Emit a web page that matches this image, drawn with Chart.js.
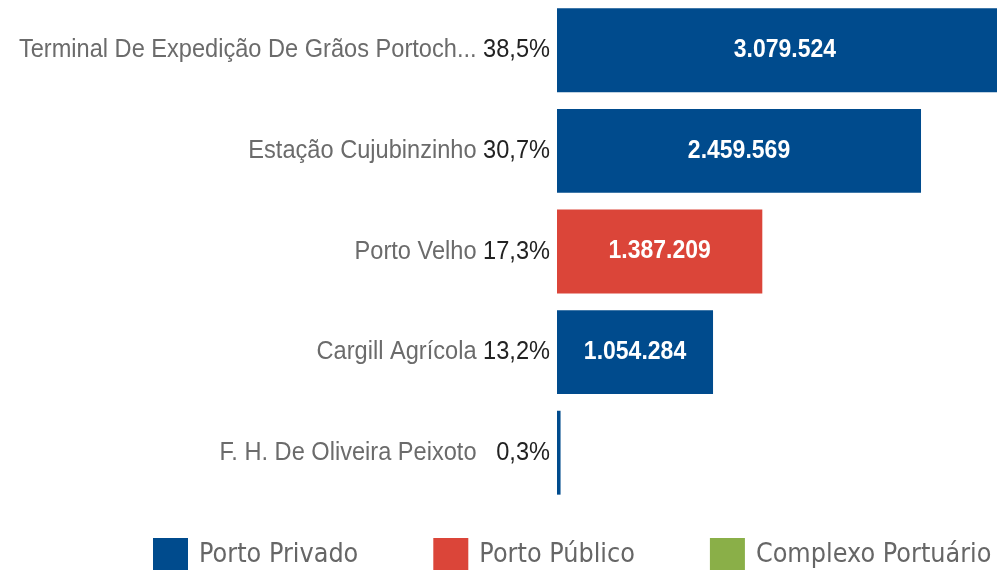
<!DOCTYPE html>
<html>
<head>
<meta charset="utf-8">
<script src="https://cdn.jsdelivr.net/npm/chart.js@4"></script>
<style>
  html, body { margin: 0; padding: 0; background: #fff; }
  #wrap { width: 997px; height: 572px; }
</style>
</head>
<body>
<div id="wrap"><canvas id="chart"></canvas></div>
<script>
const categories = [
  'Terminal De Expedição De Grãos Portoch...',
  'Estação Cujubinzinho',
  'Porto Velho',
  'Cargill Agrícola',
  'F. H. De Oliveira Peixoto'
];
const shares = ['38,5%', '30,7%', '17,3%', '13,2%', '0,3%'];
const volumes = [3079524, 2459569, 1387209, 1054284, 24000];
const portTypes = ['Porto Privado', 'Porto Privado', 'Porto Público', 'Porto Privado', 'Porto Privado'];
const legendLabels = ['Porto Privado', 'Porto Público', 'Complexo Portuário'];
const legendColors = ['#004B8D', '#DB4539', '#8AAF48'];

const labelFont = "23.6px 'Liberation Sans', Arial, sans-serif";
const valueFont = "bold 23px 'Liberation Sans', Arial, sans-serif";
const legendFont = "24px 'DejaVu Sans', Verdana, sans-serif";

function formatNumber(n) {
  return String(Math.round(n)).replace(/\B(?=(\d{3})+(?!\d))/g, '.');
}

function colorFor(type) {
  return legendColors[legendLabels.indexOf(type)];
}

// text is a bit taller than wide in the picture
function drawText(ctx, text, x, y, sy) {
  ctx.save();
  ctx.translate(x, y);
  ctx.scale(1, sy);
  ctx.fillText(text, 0, 0);
  ctx.restore();
}

const labelsPlugin = {
  id: 'labels',
  afterDatasetsDraw(chart) {
    const ctx = chart.ctx;
    const yScale = chart.scales.y;
    const meta = chart.getDatasetMeta(0);
    const right = chart.chartArea.left - 7;

    ctx.save();
    ctx.textBaseline = 'middle';
    ctx.font = labelFont;
    const nameRight = right - ctx.measureText('00,0%').width - ctx.measureText(' ').width;

    categories.forEach((name, i) => {
      const y = yScale.getPixelForTick(i);
      ctx.textAlign = 'right';
      ctx.fillStyle = '#222';
      drawText(ctx, shares[i], right, y, 1.1);
      ctx.fillStyle = '#6b6b6b';
      drawText(ctx, name, nameRight, y, 1.1);
    });

    ctx.font = valueFont;
    ctx.textAlign = 'center';
    ctx.fillStyle = '#fff';
    meta.data.forEach((bar, i) => {
      const text = formatNumber(volumes[i]);
      const w = Math.abs(bar.x - bar.base);
      if (w < ctx.measureText(text).width + 10) return;
      drawText(ctx, text, (bar.x + bar.base) / 2, bar.y, 1.1);
    });
    ctx.restore();
  }
};

const legendPlugin = {
  id: 'bottomLegend',
  afterDraw(chart) {
    const ctx = chart.ctx;
    const boxW = 35;
    const boxH = 32;
    const top = 538;
    let x = 153;
    ctx.save();
    ctx.font = legendFont;
    ctx.textBaseline = 'middle';
    ctx.textAlign = 'left';
    legendLabels.forEach((text, i) => {
      ctx.fillStyle = legendColors[i];
      ctx.fillRect(x, top, boxW, boxH);
      ctx.fillStyle = '#666';
      drawText(ctx, text, x + boxW + 11, top + boxH / 2 + 1, 1.08);
      x += boxW + 11 + ctx.measureText(text).width + 75;
    });
    ctx.restore();
  }
};

new Chart(document.getElementById('chart'), {
  type: 'bar',
  data: {
    labels: categories,
    datasets: [{
      data: volumes,
      backgroundColor: portTypes.map(colorFor),
      borderWidth: 0,
      categoryPercentage: 1,
      barPercentage: 0.834
    }]
  },
  options: {
    indexAxis: 'y',
    responsive: true,
    maintainAspectRatio: false,
    animation: false,
    layout: {
      padding: { left: 557, right: 0, top: 0, bottom: 69 }
    },
    plugins: {
      legend: { display: false },
      tooltip: { enabled: false }
    },
    scales: {
      x: { display: false, min: 0, max: 2973000 },
      y: { display: false }
    }
  },
  plugins: [labelsPlugin, legendPlugin]
});
</script>
</body>
</html>
